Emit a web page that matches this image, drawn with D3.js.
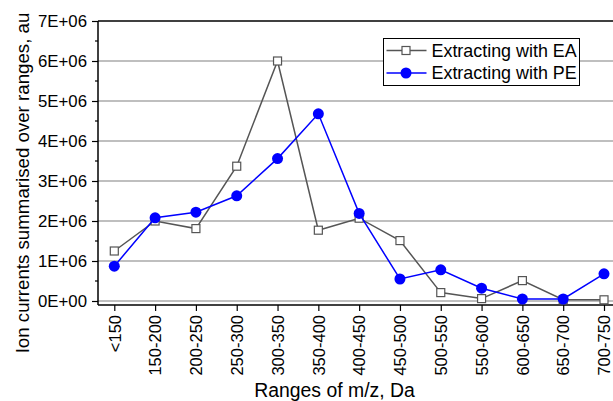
<!DOCTYPE html>
<html>
<head>
<meta charset="utf-8">
<script src="https://cdn.jsdelivr.net/npm/d3@7"></script>
<style>
  body { margin: 0; background: #fff; }
  svg { display: block; font-family: Arial, "Liberation Sans", sans-serif; }
</style>
</head>
<body>
<svg id="chart" width="613" height="401"></svg>
<script>
// ion currents per m/z range, two extraction solvents

const ranges = ["<150", "150-200", "200-250", "250-300", "300-350", "350-400", "400-450",
  "450-500", "500-550", "550-600", "600-650", "650-700", "700-750"];
const eaValues = [1.25e6, 2.0e6, 1.81e6, 3.37e6, 6.0e6, 1.77e6, 2.07e6,
  1.51e6, 0.21e6, 0.06e6, 0.51e6, 0.03e6, 0.03e6];
const peValues = [0.87e6, 2.08e6, 2.22e6, 2.63e6, 3.56e6, 4.68e6, 2.19e6,
  0.55e6, 0.78e6, 0.32e6, 0.05e6, 0.05e6, 0.68e6];
const yTicks = [0, 1e6, 2e6, 3e6, 4e6, 5e6, 6e6, 7e6];
const yTickLabels = ["0E+00", "1E+06", "2E+06", "3E+06", "4E+06", "5E+06", "6E+06", "7E+06"];
const seriesNames = ["Extracting with EA", "Extracting with PE"];

const svg = d3.select("#chart");
const width = 613;
const plotLeft = 98, plotTop = 21, plotBottom = 305;

const x = d3.scalePoint()
  .domain(ranges)
  .range([114.3, 604]);

const y = d3.scaleLinear()
  .domain([-0.1e6, 7e6])
  .range([plotBottom, plotTop]);

// gridlines
svg.append("g")
  .selectAll("line")
  .data(yTicks.slice(0, -1))
  .join("line")
  .attr("x1", plotLeft).attr("x2", width)
  .attr("y1", d => y(d)).attr("y2", d => y(d))
  .attr("stroke", "#808080")
  .attr("stroke-width", 1.2);

// top frame
svg.append("line")
  .attr("x1", plotLeft).attr("x2", width)
  .attr("y1", y(7e6)).attr("y2", y(7e6))
  .attr("stroke", "#000")
  .attr("stroke-width", 1.5);

// Y axis with minor ticks
const yAxis = svg.append("g")
  .attr("transform", `translate(${plotLeft},0)`)
  .call(d3.axisLeft(y)
    .tickValues(yTicks)
    .tickSize(6)
    .tickPadding(5)
    .tickFormat((d, i) => yTickLabels[i]));
yAxis.select(".domain").attr("d", `M0,${plotBottom}V${plotTop}`).attr("stroke-width", 1.5);
yAxis.selectAll(".tick line").attr("stroke-width", 1.2);
yAxis.selectAll("text").style("font-size", "16.8px").attr("fill", "#000");
yAxis.selectAll(".minor")
  .data(d3.range(0.5e6, 7e6, 1e6))
  .join("line")
  .attr("class", "minor")
  .attr("x1", -3).attr("x2", 0)
  .attr("y1", d => y(d)).attr("y2", d => y(d))
  .attr("stroke", "#000")
  .attr("stroke-width", 1.2);

// X axis
const xAxis = svg.append("g")
  .attr("transform", `translate(0,${plotBottom})`)
  .call(d3.axisBottom(x).tickSize(6).tickSizeOuter(0));
xAxis.select(".domain").attr("d", `M${plotLeft},0H${width}`).attr("stroke-width", 1.5);
xAxis.selectAll(".tick line").attr("stroke-width", 1.2);
xAxis.selectAll("text")
  .attr("transform", "rotate(-90)")
  .attr("x", -10)
  .attr("y", 0)
  .attr("dy", "0.35em")
  .attr("text-anchor", "end")
  .attr("fill", "#000")
  .style("font-size", "16.5px");

// axis titles
svg.append("text")
  .attr("transform", "translate(29,183) rotate(-90)")
  .attr("text-anchor", "middle")
  .style("font-size", "18.7px")
  .text("Ion currents summarised over ranges, au");

svg.append("text")
  .attr("x", 334.5)
  .attr("y", 397)
  .attr("text-anchor", "middle")
  .style("font-size", "19.4px")
  .text("Ranges of m/z, Da");

const line = d3.line()
  .x((d, i) => x(ranges[i]))
  .y(d => y(d));

// EA series
svg.append("path")
  .datum(eaValues)
  .attr("d", line)
  .attr("fill", "none")
  .attr("stroke", "#555")
  .attr("stroke-width", 1.5);
svg.selectAll(".ea")
  .data(eaValues)
  .join("rect")
  .attr("class", "ea")
  .attr("x", (d, i) => x(ranges[i]) - 4)
  .attr("y", d => y(d) - 4)
  .attr("width", 8).attr("height", 8)
  .attr("fill", "#fff")
  .attr("stroke", "#555")
  .attr("stroke-width", 1.2);

// PE series
svg.append("path")
  .datum(peValues)
  .attr("d", line)
  .attr("fill", "none")
  .attr("stroke", "#0000ff")
  .attr("stroke-width", 1.5);
svg.selectAll(".pe")
  .data(peValues)
  .join("circle")
  .attr("class", "pe")
  .attr("cx", (d, i) => x(ranges[i]))
  .attr("cy", d => y(d))
  .attr("r", 5.5)
  .attr("fill", "#0000ff");

// legend
const legend = svg.append("g").attr("transform", "translate(383.5,38.5)");
legend.append("rect")
  .attr("width", 196).attr("height", 47)
  .attr("fill", "#fff")
  .attr("stroke", "#000")
  .attr("stroke-width", 1);
const rows = legend.selectAll(".row")
  .data(seriesNames)
  .join("g")
  .attr("class", "row")
  .attr("transform", (d, i) => `translate(0,${12 + i * 22.5})`);
rows.append("line")
  .attr("x1", 3).attr("x2", 43)
  .attr("stroke", (d, i) => i ? "#0000ff" : "#555")
  .attr("stroke-width", 1.5);
rows.filter((d, i) => i === 0).append("rect")
  .attr("x", 18.5).attr("y", -4).attr("width", 8).attr("height", 8)
  .attr("fill", "#fff").attr("stroke", "#555").attr("stroke-width", 1.2);
rows.filter((d, i) => i === 1).append("circle")
  .attr("cx", 22.5).attr("r", 5.5).attr("fill", "#0000ff");
rows.append("text")
  .attr("x", 48)
  .attr("dy", "0.35em")
  .style("font-size", "17.9px")
  .text(d => d);
</script>
</body>
</html>
